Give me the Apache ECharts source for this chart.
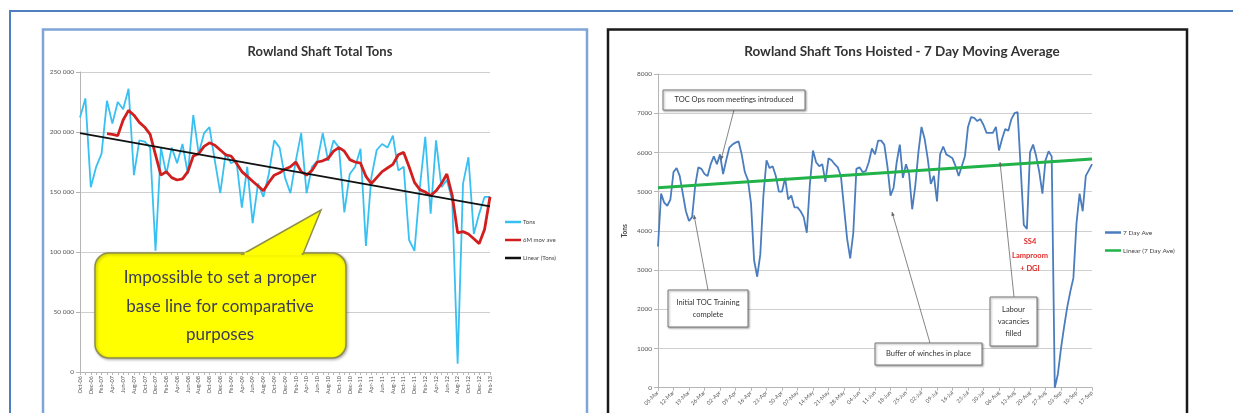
<!DOCTYPE html>
<html>
<head>
<meta charset="utf-8">
<script src="https://cdn.jsdelivr.net/npm/echarts@6.0.0/dist/echarts.min.js"></script>
<style>
  html, body { margin: 0; padding: 0; background: #fff; }
  #chart { width: 1233px; height: 413px; }
</style>
</head>
<body>
<div id="chart"></div>
<script>
// left chart: monthly tons, Oct-06 .. Feb-13
const monthLabels = [
  "Oct-06", "Nov-06", "Dec-06",
  "Jan-07", "Feb-07", "Mar-07", "Apr-07", "May-07", "Jun-07", "Jul-07", "Aug-07", "Sep-07", "Oct-07", "Nov-07", "Dec-07",
  "Jan-08", "Feb-08", "Mar-08", "Apr-08", "May-08", "Jun-08", "Jul-08", "Aug-08", "Sep-08", "Oct-08", "Nov-08", "Dec-08",
  "Jan-09", "Feb-09", "Mar-09", "Apr-09", "May-09", "Jun-09", "Jul-09", "Aug-09", "Sep-09", "Oct-09", "Nov-09", "Dec-09",
  "Jan-10", "Feb-10", "Mar-10", "Apr-10", "May-10", "Jun-10", "Jul-10", "Aug-10", "Sep-10", "Oct-10", "Nov-10", "Dec-10",
  "Jan-11", "Feb-11", "Mar-11", "Apr-11", "May-11", "Jun-11", "Jul-11", "Aug-11", "Sep-11", "Oct-11", "Nov-11", "Dec-11",
  "Jan-12", "Feb-12", "Mar-12", "Apr-12", "May-12", "Jun-12", "Jul-12", "Aug-12", "Sep-12", "Oct-12", "Nov-12", "Dec-12",
  "Jan-13", "Feb-13"
];

const tons = [
  212000, 228000, 154000, 171000, 182000, 226000, 207000, 225000, 219000, 236000,
  164000, 193000, 192000, 187000, 101000, 187000, 165000, 187000, 174000, 190000,
  165000, 214000, 182000, 199000, 204000, 176000, 149000, 182000, 174000, 176000,
  137000, 171000, 124000, 157000, 146000, 165000, 193000, 187000, 162000, 149000,
  176000, 199000, 149000, 171000, 176000, 199000, 176000, 193000, 187000, 133000,
  165000, 171000, 186000, 105000, 162000, 185000, 190000, 187000, 197000, 168000,
  171000, 110000, 101000, 154000, 196000, 132000, 193000, 154000, 160000, 143000,
  7000, 157000, 179000, 115000, 132000, 146000, 146000
];

const sixMonthAve = [
  null, null, null, null, null,
  198600, 198000, 197000, 210000, 218000, 214000, 208000, 204000, 198000, 181000,
  164000, 167000, 162000, 160000, 161000, 167000, 180000, 182000, 188000, 191000,
  189000, 185000, 181000, 180000, 174000, 167000, 163000, 159000, 155000, 151000,
  158000, 164000, 166000, 169000, 171000, 175000, 167000, 164000, 168000, 175000,
  176000, 178000, 184000, 187000, 184000, 177000, 175000, 174000, 163000, 157000,
  162000, 167000, 170000, 173000, 181000, 183000, 171000, 158000, 152000, 150000,
  147000, 151000, 157000, 165000, 147000, 116000, 117000, 115000, 111000, 107000,
  119000, 146000
];

const tonsTrendEnds = [199000, 138000];
const tonsTicks = [0, 50000, 100000, 150000, 200000, 250000];

// right chart: 7 day moving average
const dayLabels = [
  "05-Mar", "12-Mar", "19-Mar", "26-Mar", "02-Apr", "09-Apr", "16-Apr", "23-Apr", "30-Apr", "07-May",
  "14-May", "21-May", "28-May", "04-Jun", "11-Jun", "18-Jun", "25-Jun", "02-Jul", "09-Jul", "16-Jul",
  "23-Jul", "30-Jul", "06-Aug", "13-Aug", "20-Aug", "27-Aug", "03-Sep", "10-Sep", "17-Sep"
];

const sevenDayAve = [
  3600, 4950, 4720, 4640, 4800, 5500, 5600, 5400, 4950, 4500,
  4250, 4350, 5150, 5620, 5580, 5450, 5400, 5700, 5900, 5700,
  5950, 5450, 5800, 6120, 6200, 6250, 6280, 5950, 5500, 5300,
  4700, 3250, 2830, 3400, 4900, 5800, 5600, 5650, 5400, 5000,
  5000, 5350, 4800, 4900, 4600, 4600, 4500, 4350, 3950, 5200,
  6050, 5750, 5650, 5700, 5250, 5850, 5800, 5700, 5620, 5400,
  4600, 3800, 3300, 3950, 5580, 5620, 5500, 5520, 5750, 6100,
  5950, 6300, 6300, 6200, 5650, 4900, 5100, 5750, 6200, 5350,
  5700, 5450, 4550, 5150, 6000, 6650, 6350, 5850, 5200, 5400,
  4750, 5950, 6150, 5950, 5900, 5850, 5650, 5400, 5650, 5900,
  6650, 6900, 6880, 6800, 6850, 6700, 6500, 6500, 6500, 6650,
  6050, 6350, 6600, 6550, 6850, 7000, 7030, 5600, 4150, 4050,
  6000, 6200, 5900, 5500, 4950, 5800, 6030, 5900, 0, 350,
  1000, 1550, 2050, 2450, 2800, 4200, 4950, 4500, 5400, 5550,
  5700
];

const dayTrendEnds = [5100, 5830];
const dayPerLabel = 5;

const FONT = "Lato, 'Open Sans', sans-serif";

function endpointLine(ends, n) {
  return Array.from({ length: n }, (_, i) => (i === 0 ? ends[0] : i === n - 1 ? ends[1] : null));
}

function spaced(v) {
  return String(v).replace(/\B(?=(\d{3})+(?!\d))/g, " ");
}

function noteBox(x, y, w, h, lines, lineH) {
  const top = y + h / 2 - ((lines.length - 1) * lineH) / 2;
  return [
    {
      type: "rect", z: 100, silent: true,
      shape: { x, y, width: w, height: h },
      style: { fill: "#fff", stroke: "#7a7a7a", lineWidth: 1, shadowBlur: 2, shadowOffsetX: 1, shadowOffsetY: 1, shadowColor: "rgba(0,0,0,0.35)" }
    },
    ...lines.map((t, i) => ({
      type: "text", z: 101, silent: true,
      x: x + w / 2, y: top + i * lineH,
      style: { text: t, fill: "#333", font: "7.5px " + FONT, align: "center", verticalAlign: "middle" }
    }))
  ];
}

function pointer(x1, y1, x2, y2) {
  const a = Math.atan2(y2 - y1, x2 - x1);
  const s = 4;
  const bx = x2 - s * Math.cos(a);
  const by = y2 - s * Math.sin(a);
  const nx = -Math.sin(a) * 1.8;
  const ny = Math.cos(a) * 1.8;
  return [
    { type: "line", z: 99, silent: true, shape: { x1, y1, x2, y2 }, style: { stroke: "#666", lineWidth: 0.8 } },
    { type: "polygon", z: 99, silent: true, shape: { points: [[x2, y2], [bx + nx, by + ny], [bx - nx, by - ny]] }, style: { fill: "#666" } }
  ];
}

const frames = [
  { type: "rect", z: 90, silent: true, shape: { x: 10, y: 11, width: 1240, height: 430 }, style: { fill: "rgba(0,0,0,0)", stroke: "#4f7fc0", lineWidth: 2 } },
  { type: "rect", z: 90, silent: true, shape: { x: 43, y: 29.5, width: 544, height: 420 }, style: { fill: "rgba(0,0,0,0)", stroke: "#7ea4d8", lineWidth: 2.5 } },
  { type: "rect", z: 90, silent: true, shape: { x: 608, y: 29.5, width: 579, height: 420 }, style: { fill: "rgba(0,0,0,0)", stroke: "#1a1a1a", lineWidth: 2.5 } }
];

const callout = [
  {
    type: "rect", z: 100, silent: true,
    shape: { x: 95, y: 253, width: 251, height: 105, r: 14 },
    style: { fill: "#ffff00", stroke: "#8f8f4a", lineWidth: 1.5, shadowBlur: 3, shadowOffsetX: 1, shadowOffsetY: 1, shadowColor: "rgba(0,0,0,0.3)" }
  },
  {
    type: "polygon", z: 101, silent: true,
    shape: { points: [[243, 254], [321, 210], [303, 254]] },
    style: { fill: "#ffff00", stroke: "#8f8f4a", lineWidth: 1.5 }
  },
  { type: "line", z: 102, silent: true, shape: { x1: 244.5, y1: 254, x2: 301.5, y2: 254 }, style: { stroke: "#ffff00", lineWidth: 3 } },
  ...["Impossible to set a proper", "base line for comparative", "purposes"].map((t, i) => ({
    type: "text", z: 103, silent: true,
    x: 220, y: 278 + i * 28.5,
    style: { text: t, fill: "#3d3d58", font: "17px " + FONT, align: "center", verticalAlign: "middle" }
  }))
];

const notes = [
  ...pointer(734, 110, 721, 160),
  ...noteBox(663, 90, 142, 20, ["TOC Ops room meetings introduced"], 9),
  ...pointer(708, 290, 694, 215),
  ...noteBox(668, 290, 80, 37, ["Initial TOC Training", "complete"], 11.5),
  ...pointer(930, 343, 892, 212),
  ...noteBox(875, 343, 107, 22, ["Buffer of winches in place"], 9),
  ...pointer(1014, 297, 1000, 162),
  ...noteBox(990, 297, 47, 49, ["Labour", "vacancies", "filled"], 12.3),
  ...["SS4", "Lamproom", "+ DGI"].map((t, i) => ({
    type: "text", z: 101, silent: true,
    x: 1030, y: 242 + i * 13.3,
    style: { text: t, fill: "#e02a2a", font: "bold 7.5px " + FONT, align: "center", verticalAlign: "middle" }
  }))
];

const gridLine = { show: true, lineStyle: { color: "#cfcfcf", width: 1 } };
const axisGray = { show: true, lineStyle: { color: "#b5b5b5", width: 1 } };

const option = {
  animation: false,
  backgroundColor: "#fff",
  textStyle: { fontFamily: FONT },
  title: [
    { text: "Rowland Shaft Total Tons", left: 315, top: 40, textAlign: "center", textStyle: { fontSize: 13, fontWeight: "bold", color: "#333", fontFamily: FONT } },
    { text: "Rowland Shaft Tons Hoisted - 7 Day Moving Average", left: 897, top: 40, textAlign: "center", textStyle: { fontSize: 13.5, fontWeight: "bold", color: "#333", fontFamily: FONT } }
  ],
  legend: [
    {
      data: ["Tons", "6M mov ave", "Linear (Tons)"],
      orient: "vertical", left: 500, top: 214, itemGap: 12, itemWidth: 16, itemHeight: 2.5, icon: "rect",
      textStyle: { fontSize: 6, color: "#444", padding: [0, 0, 0, -3] }
    },
    {
      data: ["7 Day Ave", "Linear (7 Day Ave)"],
      orient: "vertical", left: 1100, top: 224, itemGap: 11, itemWidth: 16, itemHeight: 2.5, icon: "rect",
      textStyle: { fontSize: 6.5, color: "#444", padding: [0, 0, 0, -3] }
    }
  ],
  grid: [
    { left: 80, top: 72, width: 410, height: 300 },
    { left: 658, top: 74, width: 434, height: 313.7 }
  ],
  xAxis: [
    {
      type: "category", gridIndex: 0, data: monthLabels, boundaryGap: false,
      axisLine: axisGray,
      axisTick: { show: true, interval: 0, length: 3, lineStyle: { color: "#b5b5b5" } },
      axisLabel: { interval: 1, rotate: 90, fontSize: 5.5, color: "#555", margin: 4 }
    },
    {
      type: "category", gridIndex: 1, data: sevenDayAve.map((_, i) => String(i)), boundaryGap: false,
      axisLine: axisGray,
      axisTick: { show: true, interval: dayPerLabel - 1, length: 3, lineStyle: { color: "#b5b5b5" } },
      axisLabel: {
        interval: dayPerLabel - 1, rotate: 45, fontSize: 5.5, color: "#555", margin: 4,
        formatter: (v, i) => dayLabels[i / dayPerLabel] || ""
      }
    }
  ],
  yAxis: [
    {
      type: "value", gridIndex: 0, min: tonsTicks[0], max: tonsTicks[tonsTicks.length - 1], interval: tonsTicks[1] - tonsTicks[0],
      axisLine: axisGray,
      axisTick: { show: true, length: 4, lineStyle: { color: "#b5b5b5" } },
      splitLine: gridLine,
      axisLabel: { fontSize: 6.5, color: "#555", margin: 6, formatter: spaced }
    },
    {
      type: "value", gridIndex: 1, min: 0, max: 8000, interval: 1000,
      name: "Tons", nameLocation: "middle", nameGap: 30,
      nameTextStyle: { fontSize: 6.5, fontWeight: "bold", color: "#444" },
      axisLine: axisGray,
      axisTick: { show: true, length: 4, lineStyle: { color: "#b5b5b5" } },
      splitLine: gridLine,
      axisLabel: { fontSize: 6.5, color: "#555", margin: 6, formatter: (v) => String(v) }
    }
  ],
  series: [
    {
      name: "Tons", type: "line", xAxisIndex: 0, yAxisIndex: 0, data: tons,
      symbol: "none", color: "#38c0f2", lineStyle: { width: 1.8, color: "#38c0f2" }
    },
    {
      name: "6M mov ave", type: "line", xAxisIndex: 0, yAxisIndex: 0, data: sixMonthAve,
      symbol: "none", color: "#d11f1f", lineStyle: { width: 2.8, color: "#d11f1f" }
    },
    {
      name: "Linear (Tons)", type: "line", xAxisIndex: 0, yAxisIndex: 0,
      data: endpointLine(tonsTrendEnds, tons.length), connectNulls: true,
      symbol: "none", color: "#111", lineStyle: { width: 1.8, color: "#111" }
    },
    {
      name: "7 Day Ave", type: "line", xAxisIndex: 1, yAxisIndex: 1, data: sevenDayAve,
      symbol: "none", color: "#4a7dbe", lineStyle: { width: 1.8, color: "#4a7dbe" }
    },
    {
      name: "Linear (7 Day Ave)", type: "line", xAxisIndex: 1, yAxisIndex: 1,
      data: endpointLine(dayTrendEnds, sevenDayAve.length), connectNulls: true,
      symbol: "none", color: "#22b24a", lineStyle: { width: 3, color: "#22b24a" }
    }
  ],
  graphic: [...frames, ...callout, ...notes]
};

const chart = echarts.init(document.getElementById("chart"));
chart.setOption(option);
</script>
</body>
</html>
